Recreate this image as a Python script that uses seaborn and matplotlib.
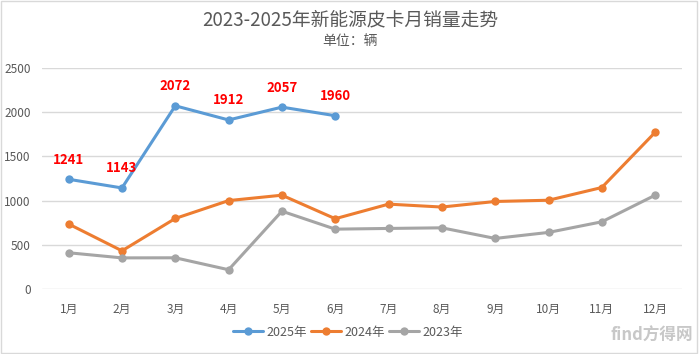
import pandas as pd
import matplotlib
matplotlib.use("Agg")
import matplotlib.pyplot as plt
import seaborn as sns

# --- data ---
months = ["1月", "2月", "3月", "4月", "5月", "6月", "7月", "8月", "9月", "10月", "11月", "12月"]
sales_2025 = [1241, 1143, 2072, 1912, 2057, 1960]
sales_2024 = [735, 432, 798, 1000, 1061, 795, 960, 927, 990, 1004, 1148, 1772]
sales_2023 = [410, 352, 353, 218, 880, 677, 685, 692, 572, 640, 760, 1061]
series_names = ["2025年", "2024年", "2023年"]
colors = {"2025年": "#5B9BD5", "2024年": "#ED7D31", "2023年": "#A5A5A5"}

rows = []
for name, vals in zip(series_names, [sales_2025, sales_2024, sales_2023]):
    for m, v in zip(months, vals):
        rows.append({"月份": m, "销量": v, "年份": name})
df = pd.DataFrame(rows)

sns.set_theme(style="white")
plt.rcParams["font.family"] = ["Noto Sans CJK SC", "DejaVu Sans"]

fig = plt.figure(figsize=(7, 3.54), dpi=100)
ax = fig.add_axes([0.06, 0.1836, 0.914, 0.6244])

sns.lineplot(data=df, x="月份", y="销量", hue="年份", hue_order=series_names,
             palette=colors, marker="o", markersize=6, markeredgewidth=0,
             linewidth=2.2, sort=False, ax=ax)

# red data labels on the 2025 series
for i, v in enumerate(sales_2025):
    ax.annotate(str(v), (i, v), xytext=(0, 9), textcoords="offset points",
                ha="center", va="bottom", color="red", fontsize=9.5, fontweight="bold")

ax.set_xlim(-0.5, 11.5)
ax.set_ylim(0, 2500)
ax.set_yticks([0, 500, 1000, 1500, 2000, 2500])
ax.yaxis.grid(True, color="#D9D9D9", linewidth=1)
ax.set_axisbelow(True)
for s in ax.spines.values():
    s.set_visible(False)
ax.tick_params(axis="both", length=0, labelsize=8.5, colors="#595959", pad=8)
ax.tick_params(axis="x", pad=10)
ax.set_xlabel("")
ax.set_ylabel("")

ax.legend_.remove()
handles, labels = ax.get_legend_handles_labels()
fig.legend(handles, labels, loc="center", bbox_to_anchor=(0.497, 0.062), ncol=3,
           frameon=False, fontsize=9, labelcolor="#595959", handlelength=2.4,
           handletextpad=0.3, columnspacing=0.3)

fig.text(0.5, 0.945, "2023-2025年新能源皮卡月销量走势", ha="center", va="center",
         fontsize=13.5, color="#595959")
fig.text(0.5, 0.885, "单位：辆", ha="center", va="center", fontsize=10, color="#595959")
fig.text(0.99, 0.025, "find方得网", ha="right", va="bottom", fontsize=12,
         color="#C8C8C8", fontweight="bold")

fig.patches.append(plt.Rectangle((0.002, 0.002), 0.994, 0.994, transform=fig.transFigure,
                                 fill=False, edgecolor="#D9D9D9", linewidth=1))

fig.savefig("out.png", dpi=100)
